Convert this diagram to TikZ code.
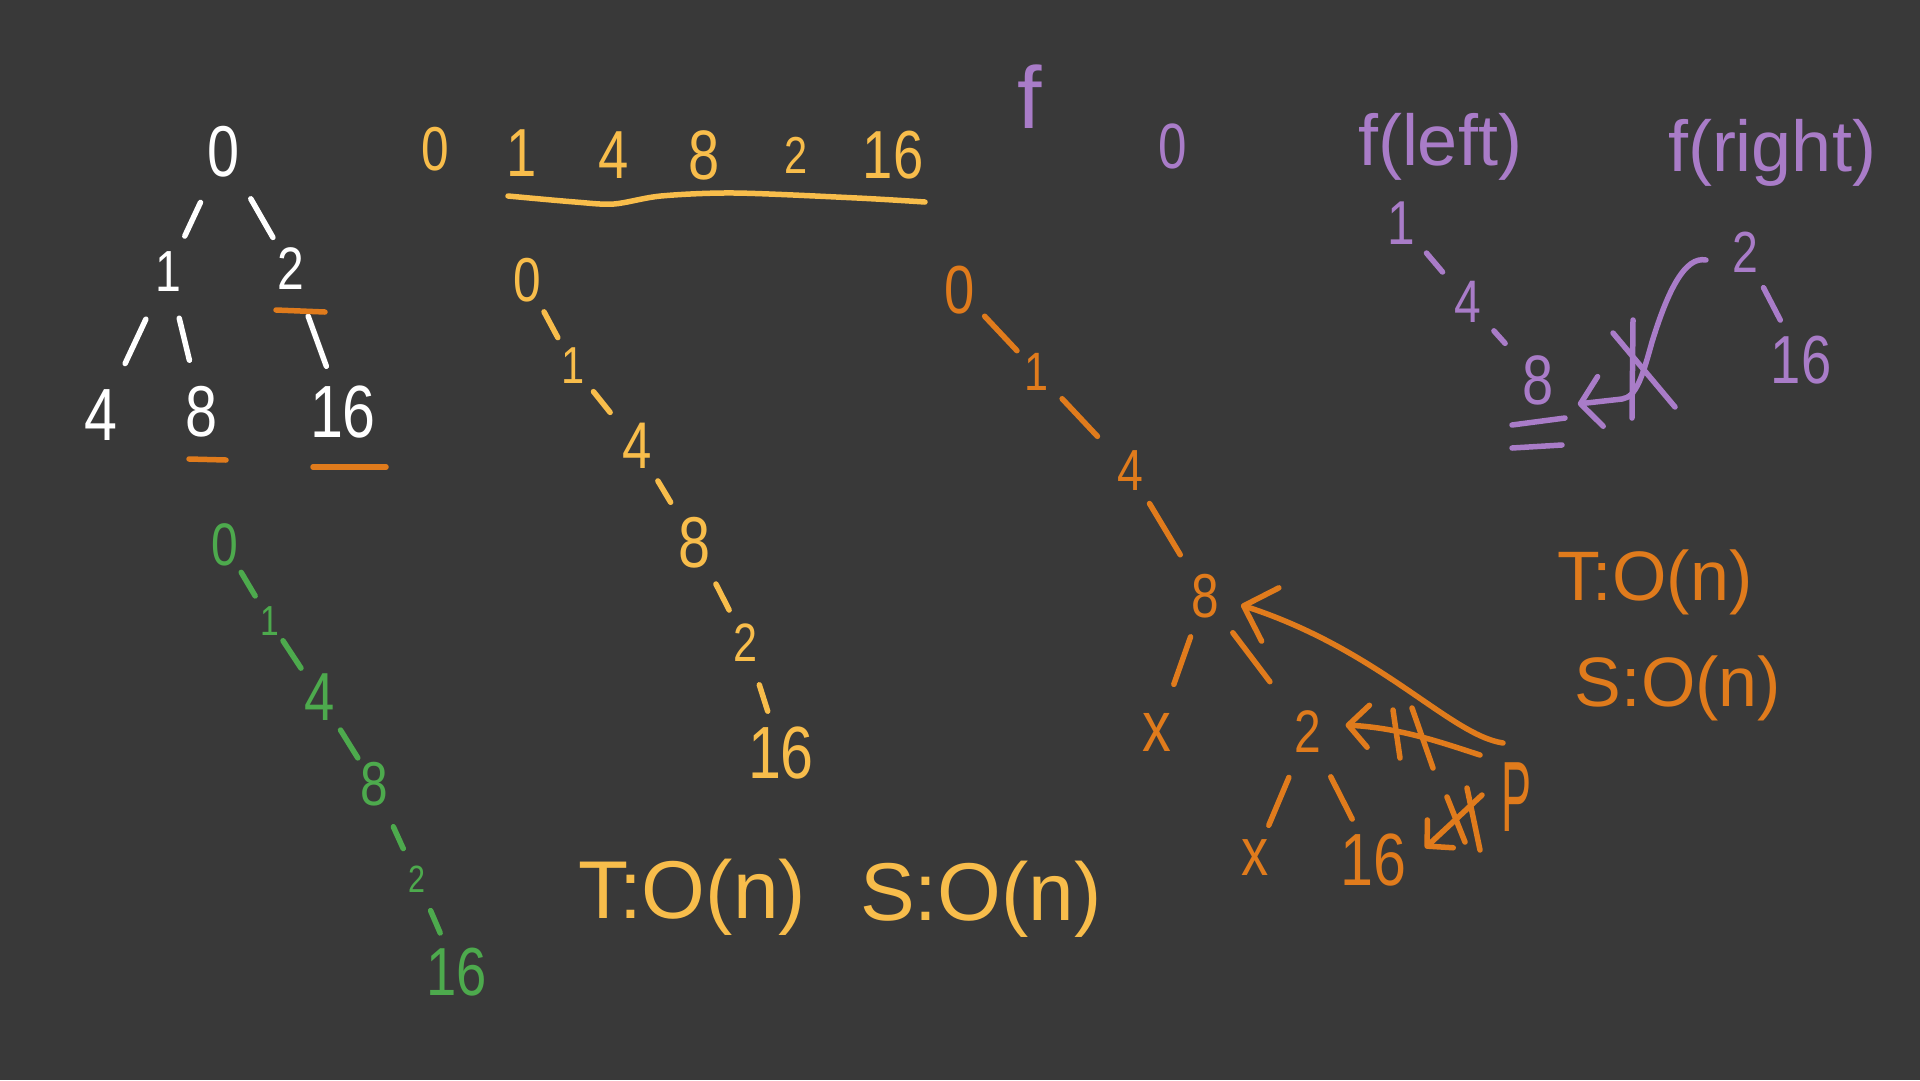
\documentclass[tikz,border=0pt]{standalone}
\usepackage{fontspec}
\setmainfont{Liberation Sans}
\usetikzlibrary{arrows.meta,calc}
\definecolor{bg}{HTML}{393939}
\definecolor{yel}{HTML}{F8BD4B}
\definecolor{org}{HTML}{E07B1C}
\definecolor{grn}{HTML}{4DAA4D}
\definecolor{pur}{HTML}{A97CC8}
\newcommand\sq[1]{\scalebox{0.8}[1]{#1}}
\newcommand\hwedge[4]{\draw[pen] ($(#1)!#3!(#2)$) -- ($(#1)!#4!(#2)$);}
\tikzset{
  txt/.style={inner sep=0pt, font=\fontsize{#1}{#1}\selectfont},
  pen/.style={line width=5.5pt, line cap=round, line join=round},
}
\begin{document}
\begin{tikzpicture}[x=1pt,y=-1pt]
\fill[bg] (0,0) rectangle (1920,1080);
\useasboundingbox (0,0) rectangle (1920,1080);

% ---------- white tree ----------
\begin{scope}[color=white]
\node[txt=72] (w0) at (224,152) {\sq{0}};
\node[txt=58] (w1) at (168,272) {\sq{1}};
\node[txt=60] (w2) at (291,269) {\sq{2}};
\node[txt=74] (w4) at (101,415) {\sq{4}};
\node[txt=72] (w8) at (202,412) {\sq{8}};
\node[txt=74] (w16) at (343,412) {\sq{16}};
\hwedge{w0}{w1}{0.42}{0.70}
\hwedge{w0}{w2}{0.40}{0.73}
\hwedge{w1}{w4}{0.33}{0.64}
\hwedge{w1}{w8}{0.33}{0.63}
\hwedge{w2}{w16}{0.33}{0.68}
\end{scope}
\begin{scope}[color=org]
\draw[pen] (276,310) -- (325,312);
\draw[pen] (189,459) -- (226,460);
\draw[pen] (313,467) -- (386,467);
\end{scope}

% ---------- yellow row ----------
\begin{scope}[color=yel]
\node[txt=62] (r0) at (435,149) {\sq{0}};
\node[txt=68] (r1) at (522,153) {\sq{1}};
\node[txt=68] (r4) at (614,155) {\sq{4}};
\node[txt=70] (r8) at (704,155) {\sq{8}};
\node[txt=52] (r2) at (796,155) {\sq{2}};
\node[txt=68] (r16) at (893,155) {\sq{16}};
\draw[pen] plot[smooth] coordinates {(508,196) (575,202) (614,204) (661,196) (735,193) (857,198) (925,202)};

% yellow chain
\node[txt=62] (y0) at (527,280) {\sq{0}};
\node[txt=52] (y1) at (573,366) {\sq{1}};
\node[txt=66] (y4) at (637,446) {\sq{4}};
\node[txt=72] (y8) at (695,543) {\sq{8}};
\node[txt=54] (y2) at (746,643) {\sq{2}};
\node[txt=74] (y16) at (781,753) {\sq{16}};
\hwedge{y0}{y1}{0.37}{0.67}
\hwedge{y1}{y4}{0.32}{0.58}
\hwedge{y4}{y8}{0.36}{0.58}
\hwedge{y8}{y2}{0.41}{0.67}
\hwedge{y2}{y16}{0.38}{0.62}

\node[txt=82] (tc1) at (692,897) {T:O(n)};
\node[txt=82] (sc1) at (981,899) {S:O(n)};
\end{scope}

% ---------- green chain ----------
\begin{scope}[color=grn]
\node[txt=60] (g0) at (225,545) {\sq{0}};
\node[txt=42] (g1) at (270,621) {\sq{1}};
\node[txt=68] (g4) at (320,697) {\sq{4}};
\node[txt=62] (g8) at (374,784) {\sq{8}};
\node[txt=38] (g2) at (417,879) {\sq{2}};
\node[txt=68] (g16) at (457,972) {\sq{16}};
\hwedge{g0}{g1}{0.36}{0.67}
\hwedge{g1}{g4}{0.26}{0.62}
\hwedge{g4}{g8}{0.38}{0.70}
\hwedge{g8}{g2}{0.45}{0.68}
\hwedge{g2}{g16}{0.34}{0.58}
\end{scope}

% ---------- orange chain ----------
\begin{scope}[color=org]
\node[txt=68] (o0) at (960,290) {\sq{0}};
\node[txt=54] (o1) at (1037,372) {\sq{1}};
\node[txt=58] (o4) at (1130,471) {\sq{4}};
\node[txt=62] (o8) at (1205,596) {\sq{8}};
\node[txt=72] (ox1) at (1157,732) {\sq{x}};
\node[txt=60] (o2) at (1308,732) {\sq{2}};
\node[txt=68] (ox2) at (1255,858) {\sq{x}};
\node[txt=74] (o16) at (1373,860) {\sq{16}};
\node[txt=100] (P) at (1516,797) {\scalebox{0.45}[1]{P}};
\hwedge{o0}{o1}{0.32}{0.74}
\hwedge{o1}{o4}{0.27}{0.65}
\hwedge{o4}{o8}{0.26}{0.67}
\hwedge{o8}{ox1}{0.30}{0.65}
\hwedge{o8}{o2}{0.27}{0.63}
\hwedge{o2}{ox2}{0.36}{0.74}
\hwedge{o2}{o16}{0.35}{0.68}
% arrows from P
\draw[pen,-{Straight Barb[length=28pt,width=56pt,round]}]
  ($(P)+(-13,-54)$) .. controls (1450,735) and (1380,650) .. ($(o8.east)+(22,9)$);
\draw[pen,-{Straight Barb[length=20pt,width=42pt,round]}]
  ($(P)+(-36,-42)$) .. controls (1440,742) and (1400,728) .. ($(o2.east)+(24,-7)$);
\draw[pen,-{Straight Barb[length=18pt,width=38pt,round]}]
  ($(P)+(-34,-2)$) -- ($(o16.east)+(19,-12)$);
% strike-outs
\draw[pen] (1393,710) -- (1400,758);
\draw[pen] (1412,708) -- (1433,768);
\draw[pen] (1447,797) -- (1465,842);
\draw[pen] (1467,788) -- (1480,850);

\node[txt=70] (tc2) at (1655,582) {T:O(n)};
\node[txt=70] (sc2) at (1678,688) {S:O(n)};
\end{scope}

% ---------- purple ----------
\begin{scope}[color=pur]
\node[txt=88] (pf) at (1030,97) {f};
\node[txt=64] (p0) at (1173,146) {\sq{0}};
\node[txt=72] (pl) at (1440,147) {f(left)};
\node[txt=72] (pr) at (1772,153) {f(right)};
\node[txt=62] (p1) at (1401,223) {\sq{1}};
\node[txt=60] (p4) at (1468,302) {\sq{4}};
\node[txt=70] (p8) at (1538,380) {\sq{8}};
\node[txt=58] (p2) at (1745,252) {\sq{2}};
\node[txt=68] (p16) at (1801,360) {\sq{16}};
\hwedge{p1}{p4}{0.38}{0.62}
\hwedge{p4}{p8}{0.37}{0.53}
\hwedge{p2}{p16}{0.33}{0.63}
\draw[pen] (1512,425) -- (1565,418);
\draw[pen] (1512,448) -- (1562,445);
\draw[pen,-{Straight Barb[length=20pt,width=50pt,round]}]
  ($(p2.west)+(-26,8)$) .. controls (1685,256) and (1668,290) .. (1652,342)
  .. controls (1642,378) and (1636,397) .. (1622,399) -- ($(p8.south east)+(24,-1)$);
\draw[pen] (1613,333) -- (1675,407);
\draw[pen] (1633,320) -- (1632,418);
\end{scope}
\end{tikzpicture}
\end{document}
